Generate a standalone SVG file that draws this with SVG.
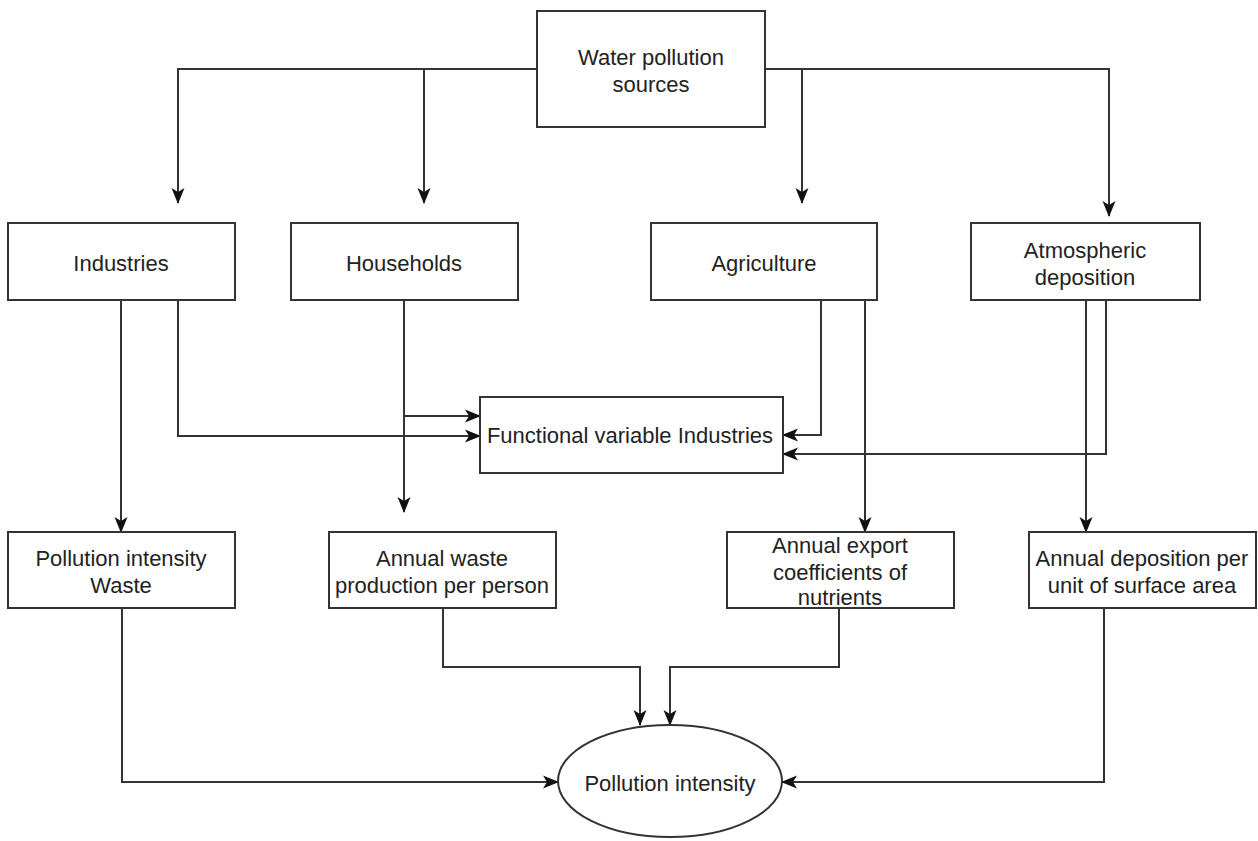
<svg xmlns="http://www.w3.org/2000/svg" width="1258" height="841" viewBox="0 0 1258 841">
<style>
.box{fill:#fff;stroke:#333;stroke-width:2}
.t{font-family:"Liberation Sans",Arial,sans-serif;font-size:22px;fill:#222;text-anchor:middle}
.c{fill:none;stroke:#333;stroke-width:2;marker-end:url(#ah)}
</style>
<defs>
<marker id="ah" markerUnits="userSpaceOnUse" markerWidth="16" markerHeight="16" viewBox="0 0 16 16" refX="15" refY="8" orient="auto">
<path d="M0,1.5 L16,8 L0,14.5 L4,8 z" fill="#111"/>
</marker>
</defs>
<rect width="1258" height="841" fill="#fff"/>
<g id="connectors">
<path class="c" d="M537,69 H178 V203"/>
<path class="c" d="M424,69 V203"/>
<path class="c" d="M765,69 H1109 V216"/>
<path class="c" d="M802,69 V203"/>
<path class="c" d="M121,300 V532"/>
<path class="c" d="M178,300 V436 H480"/>
<path class="c" d="M404,300 V512"/>
<path class="c" d="M404,416 H480"/>
<path class="c" d="M821,300 V435 H783"/>
<path class="c" d="M865,300 V532"/>
<path class="c" d="M1106,300 V454 H783"/>
<path class="c" d="M1086,300 V532"/>
<path class="c" d="M122,608 V782 H558"/>
<path class="c" d="M443,608 V667 H640 V725"/>
<path class="c" d="M839,608 V667 H670 V725"/>
<path class="c" d="M1104,608 V782 H782"/>
</g>
<g id="water-pollution-sources">
<rect class="box" x="537" y="11" width="228" height="116"/>
<text class="t" x="651" y="65">Water pollution</text>
<text class="t" x="651" y="92">sources</text>
</g>
<g id="industries">
<rect class="box" x="8" y="223" width="227" height="77"/>
<text class="t" x="121" y="271">Industries</text>
</g>
<g id="households">
<rect class="box" x="291" y="223" width="227" height="77"/>
<text class="t" x="404" y="271">Households</text>
</g>
<g id="agriculture">
<rect class="box" x="651" y="223" width="226" height="77"/>
<text class="t" x="764" y="271">Agriculture</text>
</g>
<g id="atmospheric-deposition">
<rect class="box" x="971" y="223" width="229" height="77"/>
<text class="t" x="1085" y="258">Atmospheric</text>
<text class="t" x="1085" y="285">deposition</text>
</g>
<g id="functional-variable">
<rect class="box" x="480" y="397" width="303" height="76"/>
<text class="t" x="630" y="443">Functional variable Industries</text>
</g>
<g id="pollution-intensity-waste">
<rect class="box" x="8" y="532" width="227" height="76"/>
<text class="t" x="121" y="566">Pollution intensity</text>
<text class="t" x="121" y="593">Waste</text>
</g>
<g id="annual-waste">
<rect class="box" x="329" y="532" width="227" height="76"/>
<text class="t" x="442" y="566">Annual waste</text>
<text class="t" x="442" y="593">production per person</text>
</g>
<g id="annual-export">
<rect class="box" x="727" y="532" width="227" height="76"/>
<text class="t" x="840" y="553">Annual export</text>
<text class="t" x="840" y="580">coefficients of</text>
<text class="t" x="840" y="605">nutrients</text>
</g>
<g id="annual-deposition">
<rect class="box" x="1029" y="532" width="227" height="76"/>
<text class="t" x="1142" y="566">Annual deposition per</text>
<text class="t" x="1142" y="593">unit of surface area</text>
</g>
<g id="pollution-intensity">
<ellipse class="box" cx="670" cy="781" rx="112" ry="56"/>
<text class="t" x="670" y="791">Pollution intensity</text>
</g>
</svg>
